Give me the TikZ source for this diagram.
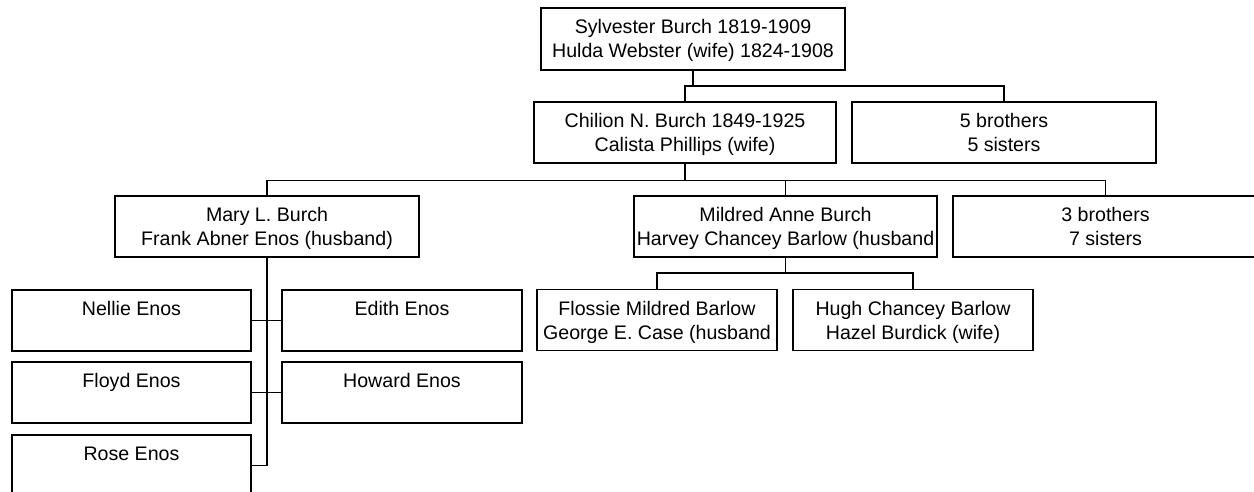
\documentclass[tikz,border=0pt]{standalone}
\usepackage{fontspec}
\setmainfont{Liberation Sans}
\newcommand\lnstrut{\rule[-5pt]{0pt}{24pt}}
\tikzset{
  person/.style={draw=black, line width=1.3pt, fill=white, inner sep=0pt, align=center,
    minimum height=61pt, font=\fontsize{19.6}{24}\selectfont},
  wide/.style={person, minimum width=303pt},
  narrow/.style={person, minimum width=240pt},
  link/.style={draw=black, line width=1.3pt}
}
\begin{document}
\begin{tikzpicture}[x=1pt,y=-1pt]
\useasboundingbox (0,0) rectangle (1254,492);
% level 0
\node[wide, minimum width=304pt, minimum height=62pt] (syl) at (693,39) {\lnstrut Sylvester Burch 1819-1909\\\lnstrut Hulda Webster (wife) 1824-1908};
% level 1
\node[wide, minimum width=302pt] (chi) at (685,132.5) {\lnstrut Chilion N. Burch 1849-1925\\\lnstrut Calista Phillips (wife)};
\node[wide, minimum width=304pt] (fiveb) at (1004,132.5) {\lnstrut 5 brothers\\\lnstrut 5 sisters};
% level 2
\node[wide, minimum width=304pt] (mary) at (267,226.5) {\lnstrut Mary L. Burch\\\lnstrut Frank Abner Enos (husband)};
\node[wide] (mil) at (785.5,226.5) {\lnstrut Mildred Anne Burch\\\lnstrut Harvey Chancey Barlow (husband};
\node[wide, minimum width=305pt] (threeb) at (1105.5,226.5) {\lnstrut 3 brothers\\\lnstrut 7 sisters};
% Mildred's children
\node[narrow] (flo) at (657,320) {\lnstrut Flossie Mildred Barlow\\\lnstrut George E. Case (husband};
\node[narrow] (hugh) at (913,320) {\lnstrut Hugh Chancey Barlow\\\lnstrut Hazel Burdick (wife)};
% Mary's children
\node[narrow, minimum width=239pt] (nel) at (131.5,320.5) {\lnstrut Nellie Enos\\\lnstrut};
\node[narrow] (edi) at (402,320.5) {\lnstrut Edith Enos\\\lnstrut};
\node[narrow, minimum width=239pt] (floyd) at (131.5,392.5) {\lnstrut Floyd Enos\\\lnstrut};
\node[narrow] (how) at (402,392.5) {\lnstrut Howard Enos\\\lnstrut};
\node[narrow, minimum width=239pt] (rose) at (131.5,465.5) {\lnstrut Rose Enos\\\lnstrut};
% bars
\coordinate (b1) at (0,86);
\coordinate (b2) at (0,180.5);
\coordinate (b3) at (0,273);
% connectors
\draw[link] (syl.south) -- (syl.south |- b1);
\draw[link] (chi.north) -- (chi.north |- b1) -| (fiveb.north);
\draw[link] (chi.south) -- (chi.south |- b2);
\draw[link] (mary.north) -- (mary.north |- b2) -| (threeb.north);
\draw[link] (mil.north) -- (mil.north |- b2);
\draw[link] (mil.south) -- (mil.south |- b3);
\draw[link] (flo.north) -- (flo.north |- b3) -| (hugh.north);
\draw[link] (mary.south) |- (rose.east);
\draw[link] (nel.east) -- (edi.west);
\draw[link] (floyd.east) -- (how.west);
\end{tikzpicture}
\end{document}
